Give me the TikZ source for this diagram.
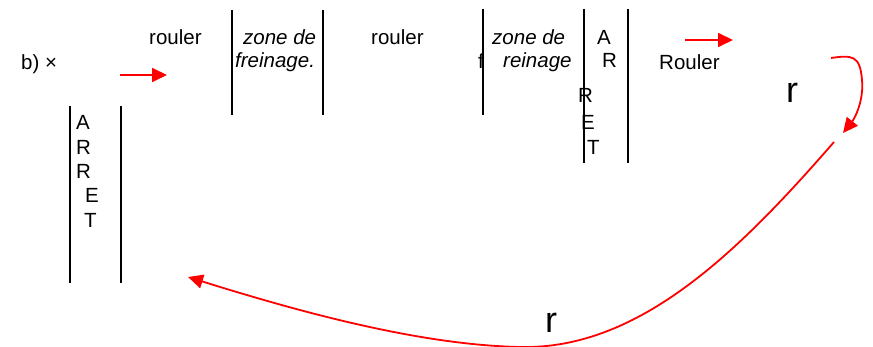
\documentclass[tikz,border=0pt]{standalone}
\usepackage{fontspec}
\setmainfont{Liberation Sans}
\usetikzlibrary{arrows.meta}
\tikzset{
  txt/.style={inner sep=0pt,anchor=base west,font=\fontsize{20.5}{24}\selectfont},
  itxt/.style={txt,font=\fontsize{20.5}{24}\selectfont\itshape},
  bigr/.style={inner sep=0pt,anchor=base west,font=\fontsize{36}{40}\selectfont},
  bar/.style={line width=1.4pt},
  move/.style={red,line width=1.8pt,-{Triangle[length=15pt,width=14pt]}}
}
\begin{document}
\begin{tikzpicture}[x=1pt,y=-1pt]
\useasboundingbox (0,0) rectangle (873,347);
% bars of the zones
\foreach \x/\t/\b in {70/106/283,121/106/283,232/10/115,323/10/115,483/9/115,584/9/163,628/9/163}
  {\draw[bar] (\x,\t)--(\x,\b);}
% top row
\node[txt] (start) at (21,70) {b) ×};
\node[txt] (roul1) at (149,45) {rouler};
\node[itxt] (zone1) at (243,45) {zone de};
\node[itxt] (frein1) at (235,68) {freinage.};
\node[txt] (roul2) at (371,45) {rouler};
\node[itxt] (zone2) at (492,45) {zone de};
\node[txt] (fchar) at (478,69) {f};
\node[itxt] (frein2) at (503,68) {reinage};
\node[txt] (roul3) at (659,70) {Rouler};
\node[bigr] (rtop) at (786,103) {r};
\node[bigr] (rbot) at (545,333) {r};
% ARRET letters
\foreach \l/\x/\y [count=\i] in {A/597/45,R/602/68,R/578/103,E/581/130,T/587/155}
  {\node[txt] (arretR\i) at (\x,\y) {\l};}
\foreach \l/\x/\y [count=\i] in {A/76/130,R/76/155,R/76/179,E/85/203,T/84/228}
  {\node[txt] (arretL\i) at (\x,\y) {\l};}
% red moves
\coordinate (m1s) at (120,75);
\coordinate (m1e) at (167,75);
\coordinate (m2s) at (685,40);
\coordinate (m2e) at (733,40);
\coordinate (turnS) at (831,58);
\coordinate (turnM) at (862,80);
\coordinate (turnE) at (843,133);
\coordinate (backS) at (834,142);
\coordinate (backM) at (520,347);
\coordinate (backE) at (188,277);
\draw[move] (m1s)--(m1e);
\draw[move] (m2s)--(m2e);
\draw[move] (turnS) .. controls (852,55) and (860,55) .. (turnM) .. controls (864,100) and (855,118) .. (turnE);
\draw[move] (backS) .. controls (740,250) and (640,350) .. (backM) .. controls (420,345) and (300,312) .. (backE);
\end{tikzpicture}
\end{document}
